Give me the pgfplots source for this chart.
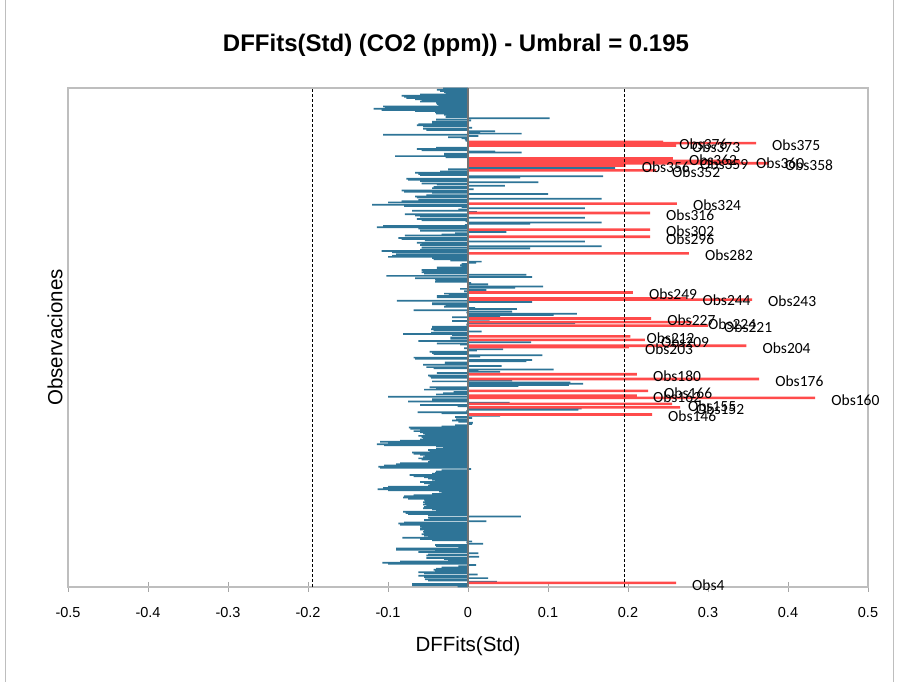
\documentclass[border=0pt]{standalone}
\usepackage{pgfplots}
\pgfplotsset{compat=1.18}
\usepackage{pgfplotstable}
\usepackage{fontspec}
\setmainfont{Liberation Sans}
\newfontfamily\calibri{Carlito}
\definecolor{barblue}{RGB}{46,116,151}
\definecolor{barred}{RGB}{255,75,75}
\definecolor{framegray}{RGB}{190,190,190}

\pgfplotstableread{
i v
421 -0.031
420 -0.039
419 -0.035
418 -0.03
417 -0.028
416 -0.06
415 -0.083
414 -0.08
413 -0.077
412 -0.066
411 -0.058
410 -0.06
409 -0.04
408 -0.039
407 -0.037
406 -0.106
405 -0.104
404 -0.118
403 -0.108
402 -0.066
401 -0.041
400 -0.04
399 -0.03
398 -0.027
397 -0.028
396 0.102
395 -0.04
394 0.004
393 -0.045
392 -0.045
391 -0.062
390 -0.064
389 -0.056
388 0.005
387 -0.056
386 -0.052
385 0.034
384 0.015
383 0.067
382 -0.106
381 0.013
380 -0.025
379 -0.008
378 -0.004
377 -0.003
374 0.038
372 -0.001
371 -0.04
370 -0.064
369 -0.058
368 0.034
367 0.067
366 -0.03
365 -0.03
364 -0.091
363 -0.028
361 0.005
357 0.16
355 0.17
354 0.184
353 -0.025
351 -0.035
350 -0.066
349 -0.062
348 -0.06
347 0.169
346 0.065
345 -0.077
344 -0.075
343 -0.06
342 0.088
341 -0.058
340 -0.039
339 0.046
338 -0.043
337 -0.045
336 0.007
335 -0.083
334 -0.08
333 -0.045
332 0.1
331 -0.052
330 -0.066
329 -0.064
328 0.167
327 -0.062
326 -0.083
325 -0.1
323 -0.12
322 -0.08
321 -0.008
320 0.146
319 -0.012
318 -0.07
317 0.011
315 -0.079
314 -0.066
313 -0.06
312 0.146
311 -0.064
310 -0.058
309 -0.003
308 0.167
307 0.0775
306 -0.004
305 -0.106
304 -0.114
303 -0.062
301 -0.06
300 0.048
299 -0.016
298 -0.033
297 -0.079
295 -0.087
294 -0.083
293 -0.054
292 0.146
291 -0.064
290 -0.058
289 -0.06
288 0.167
287 -0.058
286 0.0775
285 -0.06
284 -0.108
283 -0.095
281 -0.09
280 -0.095
279 -0.1
278 -0.045
277 -0.043
276 -0.022
275 0.017
274 0.01
273 -0.008
272 -0.01
271 -0.008
270 -0.039
269 -0.039
268 -0.058
267 -0.056
266 -0.058
265 -0.055
264 0.073
263 -0.102
262 0.08
261 -0.066
260 -0.041
259 -0.04
258 -0.041
257 0.004
256 0.025
255 -0.001
254 0.094
253 0.059
252 -0.01
251 0.023
250 -0.005
248 -0.03
247 -0.024
246 -0.039
245 -0.039
242 -0.089
241 0.08
240 -0.045
239 -0.045
238 -0.028
237 -0.03
236 0.009
235 0.061
234 -0.068
233 0.055
232 -0.002
231 0.136
230 0.107
229 0.04
228 -0.02
226 0.027
225 -0.02
223 0.134
222 -0.002
220 -0.045
219 -0.045
218 -0.046
217 -0.043
216 0.017
215 -0.046
214 -0.081
213 -0.02
211 -0.022
210 -0.022
208 -0.062
207 0.079
206 -0.039
205 -0.01
202 -0.005
201 0.044
200 0.011
199 -0.048
198 -0.045
197 -0.043
196 0.093
195 0.015
194 -0.068
193 -0.066
192 0.08
191 0.073
190 -0.029
189 -0.029
188 -0.056
187 0.042
186 -0.052
185 -0.043
184 0.107
183 0.013
182 0.04
181 -0.039
179 -0.05
178 -0.048
177 -0.046
175 0.055
174 -0.045
173 0.128
172 0.144
171 0.126
170 0.063
169 -0.048
168 -0.04
167 -0.055
165 -0.018
164 -0.031
163 -0.04
161 -0.1
159 -0.045
158 -0.045
157 -0.075
156 0.052
154 -0.06
153 -0.013
151 0.142
150 0.138
149 -0.002
148 -0.063
147 -0.033
145 0.04
144 -0.016
143 0.005
142 -0.015
141 -0.02
140 -0.012
139 0.006
138 0.005
137 -0.016
136 -0.033
135 -0.074
134 -0.072
133 -0.06
132 -0.068
131 -0.06
130 -0.056
129 -0.054
128 -0.062
127 -0.058
126 -0.056
125 -0.06
124 -0.085
123 -0.11
122 -0.1
121 -0.114
120 -0.105
119 -0.04
118 -0.031
117 -0.04
116 -0.05
115 -0.048
114 -0.07
113 -0.068
112 -0.06
111 -0.054
110 -0.056
109 -0.062
108 -0.058
107 -0.048
106 -0.05
105 -0.085
104 -0.09
103 -0.105
102 -0.112
101 -0.11
100 0.004
99 -0.033
98 -0.04
97 -0.041
96 -0.045
95 -0.073
94 -0.068
93 -0.055
92 -0.05
91 -0.045
90 -0.041
89 -0.06
88 -0.055
87 -0.048
86 -0.05
85 -0.1
84 -0.106
83 -0.113
82 -0.1
81 -0.036
80 -0.033
79 -0.045
78 -0.068
77 -0.08
76 -0.081
75 -0.075
74 -0.055
73 -0.054
72 -0.056
71 -0.054
70 -0.056
69 -0.052
68 -0.055
67 -0.056
66 -0.045
65 -0.04
64 -0.081
63 -0.078
62 -0.075
61 -0.05
60 0.066
59 -0.05
58 -0.048
57 -0.055
56 0.023
55 -0.08
54 -0.087
53 -0.085
52 -0.06
51 -0.058
50 -0.06
49 -0.06
48 -0.055
47 -0.056
46 -0.055
45 -0.058
44 -0.055
43 -0.05
42 -0.082
41 -0.06
40 -0.045
39 0.005
38 -0.002
37 0.019
36 -0.041
35 -0.04
34 -0.012
33 -0.09
32 -0.09
31 -0.041
30 -0.062
29 0.013
28 -0.05
27 -0.052
26 0.014
25 -0.052
24 -0.03
23 -0.025
22 -0.085
21 -0.107
20 -0.1
19 0.01
18 -0.012
17 -0.033
16 -0.04
15 -0.043
14 -0.041
13 -0.062
12 -0.055
11 0.012
10 -0.062
9 -0.055
8 0.025
7 -0.054
6 -0.05
5 0.036
3 -0.07
2 -0.07
1 -0.013
}\bluedata

\pgfplotstableread{
i v lab
376 0.244 Obs376
375 0.36 Obs375
373 0.26 Obs373
362 0.256 Obs362
360 0.34 Obs360
359 0.27 Obs359
358 0.376 Obs358
356 0.197 Obs356
352 0.235 Obs352
324 0.261 Obs324
316 0.2275 Obs316
302 0.2275 Obs302
296 0.2275 Obs296
282 0.276 Obs282
249 0.206 Obs249
244 0.273 Obs244
243 0.355 Obs243
227 0.229 Obs227
224 0.28 Obs224
221 0.30 Obs221
212 0.203 Obs212
209 0.221 Obs209
204 0.348 Obs204
203 0.201 Obs203
180 0.211 Obs180
176 0.364 Obs176
166 0.225 Obs166
162 0.211 Obs162
160 0.434 Obs160
155 0.255 Obs155
152 0.265 Obs152
146 0.23 Obs146
4 0.26 Obs4
}\reddata

\begin{document}
\begin{tikzpicture}
\useasboundingbox (0,0) rectangle (899pt,682pt);
\draw[framegray, line width=0.8pt] (5.5pt,0pt) -- (5.5pt,682pt);
\draw[framegray, line width=0.8pt] (893.5pt,0pt) -- (893.5pt,682pt);
\begin{axis}[
  at={(68pt,95pt)}, anchor=south west,
  scale only axis, width=800pt, height=499pt,
  xmin=-0.5, xmax=0.5, ymin=0.5, ymax=421.5,
  ytick=\empty,
  xtick={-0.5,-0.4,-0.3,-0.2,-0.1,0,0.1,0.2,0.3,0.4,0.5},
  xticklabels={-0.5,-0.4,-0.3,-0.2,-0.1,0,0.1,0.2,0.3,0.4,0.5},
  xtick pos=bottom,
  tick align=center,
  major tick length=10pt,
  tick style={draw=gray!70, line width=1pt},
  axis line style={draw=framegray, line width=1.5pt},
  xticklabel style={font=\fontsize{14.5}{16}\selectfont, yshift=-12pt},
  title={DFFits(Std) (CO2 (ppm)) - Umbral = 0.195},
  title style={font=\fontsize{24}{28}\selectfont\bfseries, at={(0.485,1)}, anchor=center, yshift=37pt},
  xlabel={DFFits(Std)},
  xlabel style={font=\fontsize{20.5}{24}\selectfont, at={(0.5,0)}, anchor=center, yshift=-59pt},
  ylabel={Observaciones},
  ylabel style={font=\fontsize{20.5}{24}\selectfont, at={(0,0.5)}, anchor=center, yshift=13pt},
  clip=false,
]
\addplot[xbar, bar width=1.7pt, bar shift=0pt, fill=barblue, draw=none] table[x=v, y=i] {\bluedata};
\addplot[xbar, bar width=2.6pt, bar shift=0pt, fill=barred, draw=none,
  nodes near coords, point meta=explicit symbolic,
  nodes near coords style={anchor=west, xshift=16pt, yshift=-2pt, inner sep=0pt, text=black, font=\calibri\fontsize{15.5}{17}\selectfont}]
  table[x=v, y=i, meta=lab] {\reddata};
\addplot[draw=gray!90!black, line width=1.7pt] coordinates {(0,0.5) (0,421.5)};
\addplot[draw=black, line width=0.9pt, dash pattern=on 3pt off 2pt] coordinates {(-0.195,0.5) (-0.195,421.5)};
\addplot[draw=black, line width=0.9pt, dash pattern=on 3pt off 2pt] coordinates {(0.195,0.5) (0.195,421.5)};
\end{axis}
\end{tikzpicture}
\end{document}
